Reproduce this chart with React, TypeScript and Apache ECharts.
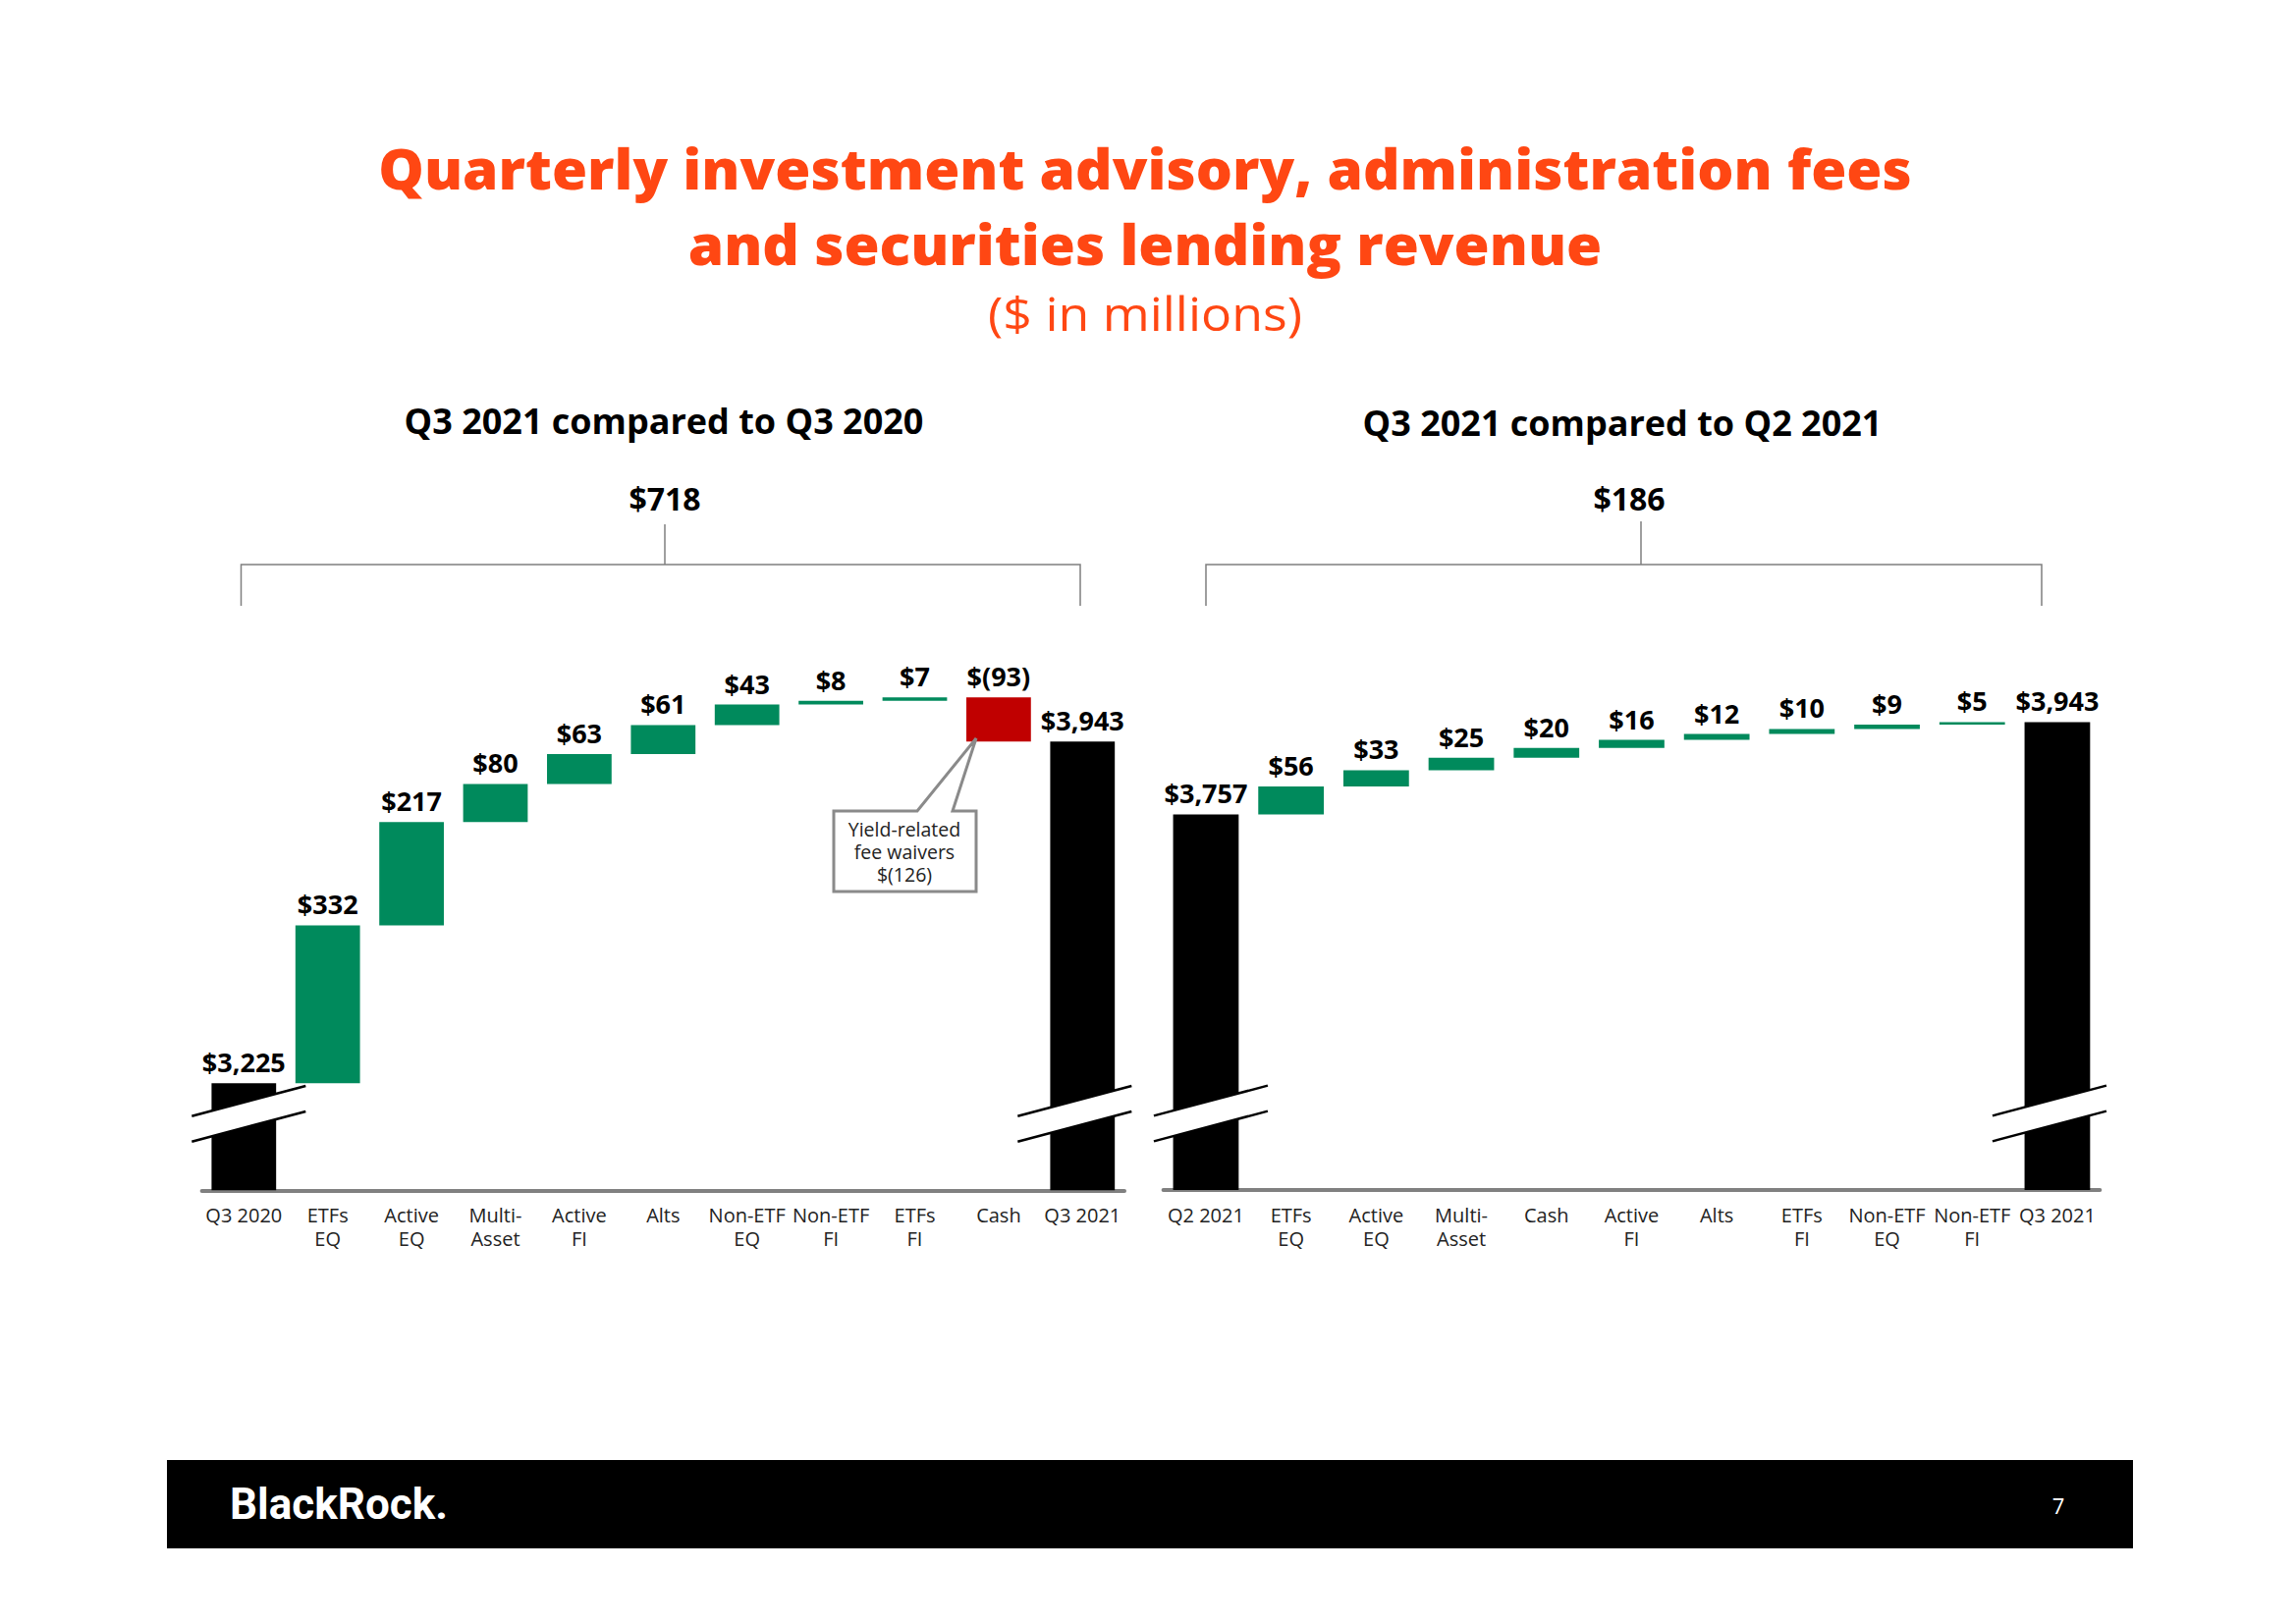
import React, { useEffect, useRef } from "react";
import * as echarts from "echarts";

// ---------- data ----------
const Y_MIN = 3000;

const leftCategories = [
  "Q3 2020", "ETFs\nEQ", "Active\nEQ", "Multi-\nAsset", "Active\nFI", "Alts",
  "Non-ETF\nEQ", "Non-ETF\nFI", "ETFs\nFI", "Cash", "Q3 2021",
];
const leftStart = 3225;
const leftDeltas = [332, 217, 80, 63, 61, 43, 8, 7, -93];
const leftEnd = 3943;
const leftChange = 718;

const rightCategories = [
  "Q2 2021", "ETFs\nEQ", "Active\nEQ", "Multi-\nAsset", "Cash", "Active\nFI",
  "Alts", "ETFs\nFI", "Non-ETF\nEQ", "Non-ETF\nFI", "Q3 2021",
];
const rightStart = 3757;
const rightDeltas = [56, 33, 25, 20, 16, 12, 10, 9, 5];
const rightEnd = 3943;
const rightChange = 186;

const calloutLines = ["Yield-related", "fee waivers", "$(126)"];

// ---------- styles ----------
const ORANGE = "#FF4713";
const GREEN = "#008A5C";
const RED = "#C00000";
const BLACK = "#000000";
const GRAY = "#808080";
const FONT = "'Open Sans', 'DejaVu Sans', sans-serif";
const TITLE_FONT = "'Open Sans', 'DejaVu Sans', sans-serif";

const fmt = (v: number) =>
  v < 0
    ? `$(${Math.abs(v).toLocaleString("en-US")})`
    : `$${v.toLocaleString("en-US")}`;

function buildWaterfall(start: number, deltas: number[], end: number) {
  const base: number[] = [];
  const size: { value: number; itemStyle: { color: string } }[] = [];
  const labels: string[] = [];
  base.push(Y_MIN);
  size.push({ value: start - Y_MIN, itemStyle: { color: BLACK } });
  labels.push(fmt(start));
  let cum = start;
  for (const d of deltas) {
    const next = cum + d;
    base.push(Math.min(cum, next));
    size.push({ value: Math.abs(d), itemStyle: { color: d >= 0 ? GREEN : RED } });
    labels.push(fmt(d));
    cum = next;
  }
  base.push(Y_MIN);
  size.push({ value: end - Y_MIN, itemStyle: { color: BLACK } });
  labels.push(fmt(end));
  return { base, size, labels };
}

const BREAK_DX = [5, -8];
const BREAK_UP = 78;

function breakSeries(idx: number, n: number) {
  return {
    type: "custom",
    xAxisIndex: idx,
    yAxisIndex: idx,
    z: 10,
    silent: true,
    data: [
      [0, Y_MIN],
      [n - 1, Y_MIN],
    ],
    renderItem: (params: any, api: any) => {
      const p = api.coord([api.value(0), api.value(1)]);
      const dx = BREAK_DX[params.dataIndex];
      const cx = p[0] + dx;
      const cy = p[1] - BREAK_UP;
      const h = 58;
      const k = 0.265;
      const g = 13;
      const u1 = [cx - h, cy - g + h * k];
      const u2 = [cx + h, cy - g - h * k];
      const l1 = [cx - h, cy + g + h * k];
      const l2 = [cx + h, cy + g - h * k];
      return {
        type: "group",
        children: [
          {
            type: "polygon",
            shape: { points: [u1, u2, l2, l1] },
            style: { fill: "#ffffff", stroke: null },
          },
          {
            type: "line",
            shape: { x1: u1[0], y1: u1[1], x2: u2[0], y2: u2[1] },
            style: { stroke: "#000", lineWidth: 2.5 },
          },
          {
            type: "line",
            shape: { x1: l1[0], y1: l1[1], x2: l2[0], y2: l2[1] },
            style: { stroke: "#000", lineWidth: 2.5 },
          },
        ],
      };
    },
  };
}

function barSeries(idx: number, wf: ReturnType<typeof buildWaterfall>) {
  return [
    {
      type: "bar",
      stack: "wf" + idx,
      xAxisIndex: idx,
      yAxisIndex: idx,
      barWidth: "77%",
      silent: true,
      itemStyle: { color: "transparent" },
      data: wf.base,
    },
    {
      type: "bar",
      stack: "wf" + idx,
      xAxisIndex: idx,
      yAxisIndex: idx,
      barWidth: "77%",
      data: wf.size,
      label: {
        show: true,
        position: "top",
        distance: 8,
        fontSize: 27,
        fontWeight: "bold",
        color: "#000",
        fontFamily: FONT,
        formatter: (p: any) => wf.labels[p.dataIndex],
      },
    },
  ];
}

function xAxis(idx: number, cats: string[]) {
  return {
    type: "category",
    gridIndex: idx,
    data: cats,
    axisLine: { show: true, lineStyle: { color: GRAY, width: 4 } },
    axisTick: { show: false },
    axisLabel: {
      interval: 0,
      fontSize: 20,
      color: "#222",
      lineHeight: 24,
      margin: 13,
      fontFamily: FONT,
    },
  };
}

function yAxis(idx: number, max: number) {
  return {
    type: "value",
    gridIndex: idx,
    min: Y_MIN,
    max,
    show: false,
    splitLine: { show: false },
  };
}

function text(t: string, x: number, y: number, size: number, extra: any = {}) {
  return {
    type: "text",
    z: 100,
    style: {
      text: t,
      x,
      y,
      align: "center",
      verticalAlign: "middle",
      fontSize: size,
      fontFamily: FONT,
      fill: "#000",
      ...extra,
    },
  };
}

// text drawn at its own origin and stretched horizontally
function wideText(t: string, x: number, y: number, size: number, sx: number, extra: any = {}) {
  return {
    type: "text",
    z: 100,
    x,
    y,
    scaleX: sx,
    scaleY: 1,
    style: {
      text: t,
      x: 0,
      y: 0,
      align: "center",
      verticalAlign: "middle",
      fontSize: size,
      fontFamily: FONT,
      fill: "#000",
      ...extra,
    },
  };
}

export default function App() {
  const ref = useRef<HTMLDivElement>(null);

  useEffect(() => {
    if (!ref.current) return;
    const chart = echarts.init(ref.current, undefined, { renderer: "svg" });
    const L = buildWaterfall(leftStart, leftDeltas, leftEnd);
    const R = buildWaterfall(rightStart, rightDeltas, rightEnd);

    const bracketStyle = { stroke: "#7f7f7f", lineWidth: 1.5, fill: null };

    const option: any = {
      animation: false,
      backgroundColor: "#ffffff",
      grid: [
        { left: 205.6, width: 939.4, top: 679.3, height: 533 },
        { left: 1184.6, width: 953.7, top: 706.6, height: 505.4 },
      ],
      xAxis: [xAxis(0, leftCategories), xAxis(1, rightCategories)],
      yAxis: [yAxis(0, 4100), yAxis(1, 4000)],
      series: [
        ...barSeries(0, L),
        ...barSeries(1, R),
        breakSeries(0, leftCategories.length),
        breakSeries(1, rightCategories.length),
      ],
      graphic: [
        // titles
        wideText("Quarterly investment advisory, administration fees", 1166, 171, 56, 1.045, {
          fontFamily: TITLE_FONT,
          fontWeight: 800,
          fill: ORANGE,
        }),
        wideText("and securities lending revenue", 1166, 248, 56, 1.045, {
          fontFamily: TITLE_FONT,
          fontWeight: 800,
          fill: ORANGE,
        }),
        wideText("($ in millions)", 1166, 319, 48, 1.08, { fill: ORANGE }),
        // panel headings
        text("Q3 2021 compared to Q3 2020", 676, 428, 36, { fontWeight: "bold" }),
        text(fmt(leftChange), 677, 507, 32, { fontWeight: "bold" }),
        text("Q3 2021 compared to Q2 2021", 1652, 430, 36, { fontWeight: "bold" }),
        text(fmt(rightChange), 1659, 507, 32, { fontWeight: "bold" }),
        // brackets
        { type: "line", z: 100, shape: { x1: 677, y1: 534, x2: 677, y2: 575 }, style: bracketStyle },
        {
          type: "polyline",
          z: 100,
          shape: { points: [[245.5, 617], [245.5, 575], [1100, 575], [1100, 617]] },
          style: bracketStyle,
        },
        { type: "line", z: 100, shape: { x1: 1671, y1: 531, x2: 1671, y2: 575 }, style: bracketStyle },
        {
          type: "polyline",
          z: 100,
          shape: { points: [[1228, 617], [1228, 575], [2079, 575], [2079, 617]] },
          style: bracketStyle,
        },
        // callout
        {
          type: "polygon",
          z: 100,
          shape: {
            points: [[849, 826], [934, 826], [994, 752], [970, 826], [994, 826], [994, 908], [849, 908]],
          },
          style: { fill: "#ffffff", stroke: "#8a8a8a", lineWidth: 3 },
        },
        text(calloutLines.join("\n"), 921, 867, 19.5, { fill: "#222", lineHeight: 23 }),
        // footer
        { type: "rect", z: 90, shape: { x: 170, y: 1487, width: 2002, height: 90 }, style: { fill: "#000" } },
        text("BlackRock.", 234, 1532, 44, {
          align: "left",
          fontWeight: "bold",
          fill: "#fff",
          fontFamily: "Roboto, 'Open Sans', sans-serif",
        }),
        text("7", 2096, 1533, 22, { fill: "#fff" }),
      ],
    };
    chart.setOption(option);
    return () => chart.dispose();
  }, []);

  return (
    <div
      ref={ref}
      style={{ position: "fixed", left: 0, top: 0, width: 2338, height: 1653, background: "#fff" }}
    />
  );
}
